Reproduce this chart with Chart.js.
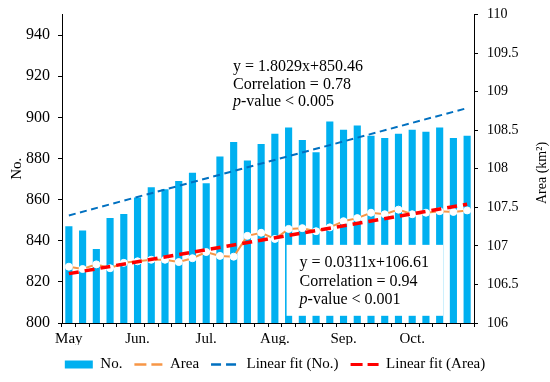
<!DOCTYPE html>
<html>
<head>
<meta charset="utf-8">
<script src="https://cdn.jsdelivr.net/npm/chart.js@4.4.0/dist/chart.umd.min.js"></script>
<style>
  html, body { margin: 0; padding: 0; background: #fff; }
</style>
</head>
<body>
<canvas id="myChart" width="550" height="382"></canvas>
<script>
// tick labels on the category axis (one per bar, month name every 5th)
const periods = ['May','','','','','Jun.','','','','','Jul.','','','','','Aug.','','','','','Sep.','','','','','Oct.','','','',''];
// No. (bars, left axis)
const counts = [847,845,836,851,853,861,866,865,869,873,868,881,888,879,887,892,895,889,883,898,894,896,891,890,892,894,893,895,890,891];
// Area km2 (white dots, right axis)
const areas = [106.73,106.70,106.76,106.71,106.78,106.80,106.82,106.82,106.79,106.84,106.92,106.87,106.86,107.13,107.17,107.09,107.22,107.23,107.19,107.24,107.32,107.36,107.43,107.41,107.47,107.41,107.43,107.45,107.44,107.46];
// fit lines, first and last values
const fitNoEnds = [852.3, 904.5];
const fitAreaEnds = [106.64, 107.54];

const serif = 'Liberation Serif';
const blue = '#00B0F0';
const orange = '#F79646';
const darkBlue = '#0070C0';
const red = '#FF0000';

function endsToSeries(ends) {
  const arr = periods.map(() => null);
  arr[0] = ends[0];
  arr[arr.length - 1] = ends[1];
  return arr;
}

function drawPValue(ctx, x, y, rest) {
  ctx.font = 'italic 16px ' + serif;
  ctx.fillText('p', x, y);
  const w = ctx.measureText('p').width;
  ctx.font = '16px ' + serif;
  ctx.fillText(rest, x + w, y);
}

const notes = {
  id: 'notes',
  afterDatasetDraw(chart, args) {
    if (args.index !== 0) return;
    const ctx = chart.ctx;
    const xs = chart.scales.x, ys = chart.scales.y;
    const left = xs.getPixelForValue(16) - 2;
    const right = xs.getPixelForValue(27) + 3.5;
    const top = ys.getPixelForValue(838);
    const bottom = ys.getPixelForValue(803.5);
    ctx.save();
    ctx.fillStyle = '#fff';
    ctx.fillRect(left, top, right - left, bottom - top);
    ctx.fillStyle = '#000';
    ctx.textBaseline = 'middle';
    ctx.font = '16px ' + serif;
    const tx = left + 13;
    ctx.fillText('y = 0.0311x+106.61', tx, top + 18);
    ctx.fillText('Correlation = 0.94', tx, top + 36.5);
    drawPValue(ctx, tx, top + 54.5, '-value < 0.001');
    ctx.restore();
  },
  afterDraw(chart) {
    const ctx = chart.ctx;
    ctx.save();
    ctx.fillStyle = '#000';
    ctx.textBaseline = 'middle';
    ctx.font = '16px ' + serif;
    const tx = 233;
    ctx.fillText('y = 1.8029x+850.46', tx, 67);
    ctx.fillText('Correlation = 0.78', tx, 84.5);
    drawPValue(ctx, tx, 102, '-value < 0.005');
    // right axis title, reading bottom to top
    ctx.translate(542, 173);
    ctx.rotate(-Math.PI / 2);
    ctx.textAlign = 'center';
    ctx.font = '14px ' + serif;
    ctx.fillText('Area (km\u00B2)', 0, 0);
    ctx.restore();
  }
};

const axisGrid = { display: true, drawOnChartArea: false, color: '#000', tickLength: 4, tickColor: '#000' };
const axisBorder = { color: '#000', width: 1 };

const ctx = document.getElementById('myChart').getContext('2d');
const myChart = new Chart(ctx, {
  type: 'bar',
  data: {
    labels: periods,
    datasets: [
      {
        type: 'bar',
        label: 'No.',
        data: counts,
        yAxisID: 'y',
        backgroundColor: blue,
        borderWidth: 0,
        barPercentage: 0.52,
        categoryPercentage: 1,
        order: 10
      },
      {
        type: 'line',
        label: 'Area',
        data: areas,
        yAxisID: 'y2',
        borderColor: orange,
        borderWidth: 2,
        pointRadius: 3.5,
        pointBackgroundColor: '#fff',
        pointBorderColor: '#fff',
        pointBorderWidth: 1,
        tension: 0,
        order: 1
      },
      {
        type: 'line',
        label: 'Linear fit (No.)',
        data: endsToSeries(fitNoEnds),
        yAxisID: 'y',
        borderColor: darkBlue,
        borderWidth: 2,
        borderDash: [7, 4.5],
        pointRadius: 0,
        spanGaps: true,
        order: 2
      },
      {
        type: 'line',
        label: 'Linear fit (Area)',
        data: endsToSeries(fitAreaEnds),
        yAxisID: 'y2',
        borderColor: red,
        borderWidth: 3.5,
        borderDash: [10, 6],
        pointRadius: 0,
        spanGaps: true,
        order: 0
      }
    ]
  },
  options: {
    responsive: false,
    animation: false,
    devicePixelRatio: 1,
    layout: { padding: { top: 14.5, left: 0, right: 0, bottom: 0 } },
    plugins: {
      tooltip: { enabled: false },
      legend: {
        position: 'bottom',
        labels: {
          usePointStyle: true,
          pointStyleWidth: 28,
          boxHeight: 8,
          padding: 12,
          color: '#000',
          font: { family: serif, size: 15 },
          generateLabels: () => [
            { text: 'No.', pointStyle: 'rect', fillStyle: blue, strokeStyle: blue, lineWidth: 0, datasetIndex: 0 },
            { text: 'Area', pointStyle: 'line', fillStyle: orange, strokeStyle: orange, lineWidth: 2.5, lineDash: [12, 5], datasetIndex: 1 },
            { text: 'Linear fit (No.)', pointStyle: 'line', fillStyle: darkBlue, strokeStyle: darkBlue, lineWidth: 2.5, lineDash: [10, 5], datasetIndex: 2 },
            { text: 'Linear fit (Area)', pointStyle: 'line', fillStyle: red, strokeStyle: red, lineWidth: 3, lineDash: [12, 5], datasetIndex: 3 }
          ]
        }
      }
    },
    scales: {
      x: {
        grid: Object.assign({ offset: true }, axisGrid),
        border: axisBorder,
        ticks: { autoSkip: false, maxRotation: 0, minRotation: 0, padding: 3, color: '#000', font: { family: serif, size: 15 } },
        afterFit(s) { s.height = 22; s.paddingLeft = 0; s.paddingRight = 0; }
      },
      y: {
        position: 'left',
        min: 800,
        max: 950,
        grid: axisGrid,
        border: axisBorder,
        ticks: { stepSize: 20, includeBounds: false, padding: 8, color: '#000', font: { family: serif, size: 16 } },
        title: { display: true, text: 'No.', color: '#000', font: { family: serif, size: 15 }, padding: { top: 8, bottom: 0 } },
        afterFit(s) { s.width = 62; s.paddingTop = 0; s.paddingBottom = 0; }
      },
      y2: {
        position: 'right',
        min: 106,
        max: 110,
        grid: axisGrid,
        border: axisBorder,
        ticks: {
          stepSize: 0.5,
          padding: 9,
          color: '#000',
          font: { family: serif, size: 14 },
          callback: v => String(Math.round(v * 10) / 10)
        },
        afterFit(s) { s.width = 76; s.paddingTop = 0; s.paddingBottom = 0; }
      }
    }
  },
  plugins: [notes]
});
</script>
</body>
</html>
